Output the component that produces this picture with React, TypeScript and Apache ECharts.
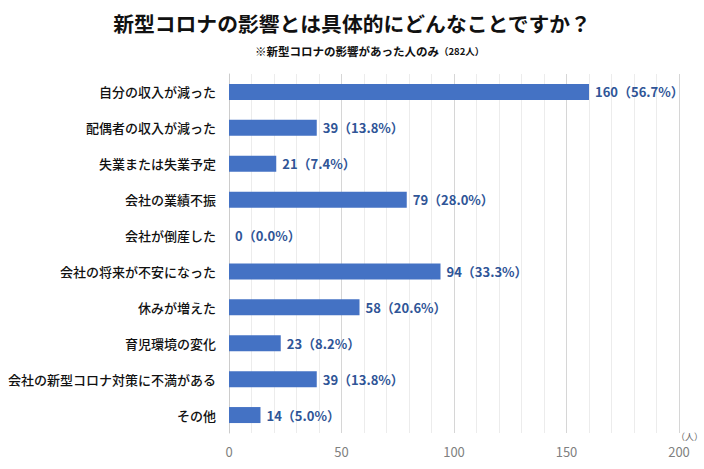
import React, { useEffect, useRef } from "react";
import * as echarts from "echarts";

const categories = [
  "自分の収入が減った",
  "配偶者の収入が減った",
  "失業または失業予定",
  "会社の業績不振",
  "会社が倒産した",
  "会社の将来が不安になった",
  "休みが増えた",
  "育児環境の変化",
  "会社の新型コロナ対策に不満がある",
  "その他",
];
const counts = [160, 39, 21, 79, 0, 94, 58, 23, 39, 14];
const percents = ["56.7", "13.8", "7.4", "28.0", "0.0", "33.3", "20.6", "8.2", "13.8", "5.0"];
const xTicks = [0, 50, 100, 150, 200];
const unitLabel = "（人）";

const FONT = '"Noto Sans CJK JP", "Noto Sans", sans-serif';

export default function App() {
  const ref = useRef<HTMLDivElement>(null);
  useEffect(() => {
    if (!ref.current) return;
    const chart = echarts.init(ref.current, undefined, { renderer: "svg" });
    chart.setOption({
      animation: false,
      backgroundColor: "#ffffff",
      textStyle: { fontFamily: FONT },
      title: [
        {
          text: "新型コロナの影響とは具体的にどんなことですか？",
          left: "center",
          top: 8,
          textStyle: { fontSize: 20.8, fontWeight: "bold", color: "#111", fontFamily: FONT },
        },
        {
          text: "※新型コロナの影響があった人のみ{s|（282人）}",
          left: 255,
          top: 45,
          padding: 0,
          textStyle: {
            fontSize: 11.5,
            fontWeight: "bold",
            color: "#111",
            fontFamily: FONT,
            rich: { s: { fontSize: 9.5, fontWeight: "bold", color: "#111", fontFamily: FONT } },
          },
        },
      ],
      graphic: [
        {
          type: "text",
          x: 676,
          y: 432,
          style: { text: unitLabel, fontSize: 9, fill: "#666", fontFamily: FONT },
        },
      ],
      grid: { left: 229, right: 25, top: 74, bottom: 36, containLabel: false },
      xAxis: {
        type: "value",
        min: xTicks[0],
        max: xTicks[xTicks.length - 1],
        interval: 50,
        axisLine: { show: false },
        axisTick: { show: false },
        axisLabel: { fontSize: 13, color: "#808080", margin: 12, fontFamily: FONT },
        splitLine: { show: true, lineStyle: { color: "#d6d6d6", width: 1 } },
        minorTick: { show: false, splitNumber: 5 },
        minorSplitLine: { show: true, lineStyle: { color: "#ececec", width: 1 } },
      },
      yAxis: {
        type: "category",
        data: categories,
        inverse: true,
        axisLine: { show: true, lineStyle: { color: "#cccccc" } },
        axisTick: { show: false },
        axisLabel: { fontSize: 13, fontWeight: 500, color: "#111", margin: 13, fontFamily: FONT },
      },
      series: [
        {
          type: "bar",
          data: counts,
          barWidth: 16,
          itemStyle: { color: "#4472C4" },
          label: {
            show: true,
            position: "right",
            distance: 6,
            fontSize: 13,
            fontWeight: "bold",
            color: "#2F5597",
            fontFamily: FONT,
            formatter: (p: any) => `${counts[p.dataIndex]}（${percents[p.dataIndex]}%）`,
          },
        },
      ],
    });
    return () => chart.dispose();
  }, []);
  return <div ref={ref} style={{ width: 704, height: 469, position: "absolute", left: 0, top: 0 }} />;
}
